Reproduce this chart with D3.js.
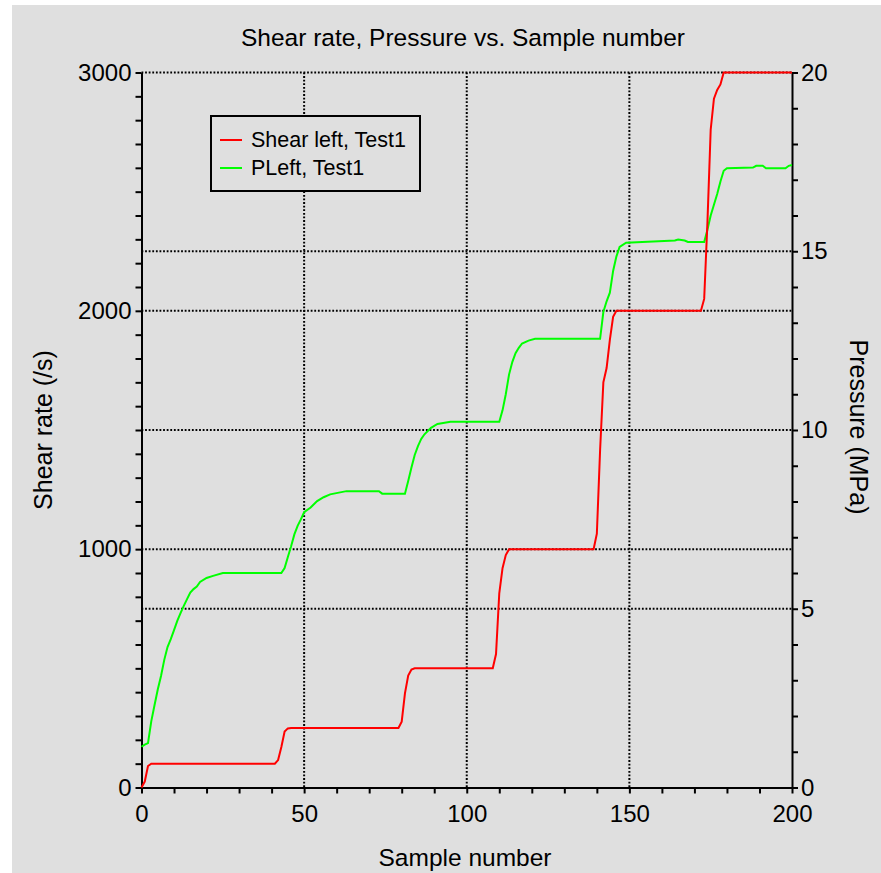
<!DOCTYPE html>
<html>
<head>
<meta charset="utf-8">
<script src="https://cdn.jsdelivr.net/npm/d3@7"></script>
<style>
  body { margin: 0; background: #ffffff; }
  svg { display: block; }
  text { font-family: "Liberation Sans", Arial, sans-serif; fill: #000; }
  .axis path, .axis line { stroke: #000; stroke-width: 2; }
  .axis text { font-size: 24px; }
  .grid { stroke: #000; stroke-width: 2; stroke-dasharray: 1.8 1.8; }
</style>
</head>
<body>
<script>
'use strict';

// data: sample number and value
var shearSamples = [0, 1, 2, 3, 41, 42, 43, 44, 45, 46, 79, 80, 81, 82, 83, 84, 108, 109, 110, 111, 112, 113,
    139, 140, 141, 142, 143, 144, 145, 146, 172, 173, 174, 175, 176, 177, 178, 179, 200];
var shearValues = [0, 25, 90, 100, 100, 115, 170, 235, 248, 250, 250, 276, 395, 470, 495, 500, 500, 560, 815, 920, 975, 1000,
    1000, 1065, 1416, 1700, 1760, 1878, 1975, 2000, 2000, 2050, 2371, 2760, 2890, 2927, 2950, 3000, 3000];

var pressureSamples = [0, 1, 2, 3, 4, 5, 6, 7, 8, 9, 10, 11, 12, 13, 14, 15, 16, 17, 18, 20, 22, 25,
    43, 44, 45, 46, 47, 48, 49, 50, 52, 54, 56, 58, 63, 73, 74, 81, 82, 83, 84, 85, 86, 87, 89, 91, 95,
    110, 111, 112, 113, 114, 115, 116, 117, 119, 121, 141, 142, 143, 144, 145, 146, 147, 149, 164, 165, 167, 168,
    173, 174, 175, 176, 177, 178, 179, 180, 188, 189, 191, 192, 198, 199, 200];
var pressureValues = [1.14, 1.2, 1.24, 1.85, 2.3, 2.74, 3.12, 3.57, 3.93, 4.15, 4.4, 4.66, 4.88, 5.08, 5.27, 5.45, 5.55, 5.62, 5.75, 5.86, 5.92, 6.0,
    6.0, 6.14, 6.45, 6.75, 7.08, 7.32, 7.5, 7.7, 7.83, 8.01, 8.12, 8.2, 8.29, 8.29, 8.22, 8.22, 8.57, 8.95, 9.3, 9.55, 9.75, 9.88, 10.06, 10.17, 10.23,
    10.23, 10.55, 11.0, 11.55, 11.9, 12.15, 12.3, 12.42, 12.5, 12.55, 12.55, 13.3, 13.6, 13.84, 14.45, 14.85, 15.12, 15.24, 15.3, 15.33, 15.3, 15.26,
    15.26, 15.6, 16.0, 16.3, 16.6, 16.95, 17.25, 17.32, 17.34, 17.39, 17.39, 17.32, 17.32, 17.39, 17.41];

// tick and grid values
var xLabels = [0, 50, 100, 150, 200];
var leftLabels = [0, 1000, 2000, 3000];
var rightLabels = [0, 5, 10, 15, 20];
var xGrid = [50, 100, 150];
var leftGrid = [1000, 2000, 3000];
var rightGrid = [5, 10, 15];

var seriesNames = ['Shear left, Test1', 'PLeft, Test1'];
var seriesColors = ['#ff0000', '#00ff00'];

// sizes
var width = 881;
var height = 873;
var margin = {top: 72.5, right: 89, bottom: 85.5, left: 141.5};
var plotW = width - margin.left - margin.right;
var plotH = height - margin.top - margin.bottom;

document.addEventListener('DOMContentLoaded', function() {
    drawChart();
});

function drawChart() {

    var svg = d3.select('body').append('svg')
        .attr('width', width)
        .attr('height', height);

    // gray panel
    svg.append('rect')
        .attr('x', 12).attr('y', 5)
        .attr('width', width - 12).attr('height', height - 5)
        .attr('fill', '#dfdfdf');

    var g = svg.append('g')
        .attr('transform', 'translate(' + margin.left + ',' + margin.top + ')');

    var x = d3.scaleLinear().domain([0, 200]).range([0, plotW]);
    var yL = d3.scaleLinear().domain([0, 3000]).range([plotH, 0]);
    var yR = d3.scaleLinear().domain([0, 20]).range([plotH, 0]);

    // grid lines
    g.selectAll('.gx').data(xGrid).enter().append('line')
        .attr('class', 'grid')
        .attr('x1', function(d) { return x(d); }).attr('x2', function(d) { return x(d); })
        .attr('y1', 0).attr('y2', plotH);
    g.selectAll('.gl').data(leftGrid).enter().append('line')
        .attr('class', 'grid')
        .attr('x1', 0).attr('x2', plotW)
        .attr('y1', function(d) { return yL(d); }).attr('y2', function(d) { return yL(d); });
    g.selectAll('.gr').data(rightGrid).enter().append('line')
        .attr('class', 'grid')
        .attr('x1', 0).attr('x2', plotW)
        .attr('y1', function(d) { return yR(d); }).attr('y2', function(d) { return yR(d); });

    // axes
    g.append('g')
        .attr('class', 'axis')
        .attr('transform', 'translate(0,' + plotH + ')')
        .call(d3.axisBottom(x).tickValues(d3.range(0, 201, 10)).tickSize(6).tickSizeOuter(0).tickPadding(11)
            .tickFormat(function(d) { return xLabels.indexOf(d) >= 0 ? d : ''; }));

    g.append('g')
        .attr('class', 'axis')
        .call(d3.axisLeft(yL).tickValues(d3.range(0, 3001, 100)).tickSize(6).tickSizeOuter(0).tickPadding(4)
            .tickFormat(function(d) { return leftLabels.indexOf(d) >= 0 ? d : ''; }));

    g.append('g')
        .attr('class', 'axis')
        .attr('transform', 'translate(' + plotW + ',0)')
        .call(d3.axisRight(yR).tickValues(d3.range(0, 21, 1)).tickSize(6).tickSizeOuter(0).tickPadding(3)
            .tickFormat(function(d) { return rightLabels.indexOf(d) >= 0 ? d : ''; }));

    g.selectAll('.axis text').attr('fill', '#000');

    // lines
    var shearLine = d3.line()
        .x(function(d, i) { return x(shearSamples[i]); })
        .y(function(d) { return yL(d); });
    var pressureLine = d3.line()
        .x(function(d, i) { return x(pressureSamples[i]); })
        .y(function(d) { return yR(d); });

    g.append('path')
        .attr('d', pressureLine(pressureValues))
        .attr('fill', 'none').attr('stroke', seriesColors[1]).attr('stroke-width', 2);
    g.append('path')
        .attr('d', shearLine(shearValues))
        .attr('fill', 'none').attr('stroke', seriesColors[0]).attr('stroke-width', 2);

    // legend
    var legend = svg.append('g').attr('transform', 'translate(211,116)');
    legend.append('rect')
        .attr('width', 209).attr('height', 75)
        .attr('fill', '#dfdfdf').attr('stroke', '#000').attr('stroke-width', 2);
    seriesNames.forEach(function(name, i) {
        legend.append('line')
            .attr('x1', 9).attr('x2', 31)
            .attr('y1', 24 + i * 28).attr('y2', 24 + i * 28)
            .attr('stroke', seriesColors[i]).attr('stroke-width', 2);
        legend.append('text')
            .attr('x', 40).attr('y', 31 + i * 28)
            .style('font-size', '21.5px')
            .text(name);
    });

    // titles
    svg.append('text')
        .attr('x', 463).attr('y', 46)
        .attr('text-anchor', 'middle')
        .style('font-size', '24.5px')
        .text('Shear rate, Pressure vs. Sample number');

    svg.append('text')
        .attr('x', 465).attr('y', 866)
        .attr('text-anchor', 'middle')
        .style('font-size', '24.5px')
        .text('Sample number');

    svg.append('text')
        .attr('transform', 'translate(52,430) rotate(-90)')
        .attr('text-anchor', 'middle')
        .style('font-size', '25px')
        .text('Shear rate (/s)');

    svg.append('text')
        .attr('transform', 'translate(850,427) rotate(90)')
        .attr('text-anchor', 'middle')
        .style('font-size', '25px')
        .text('Pressure (MPa)');
}
</script>
</body>
</html>
